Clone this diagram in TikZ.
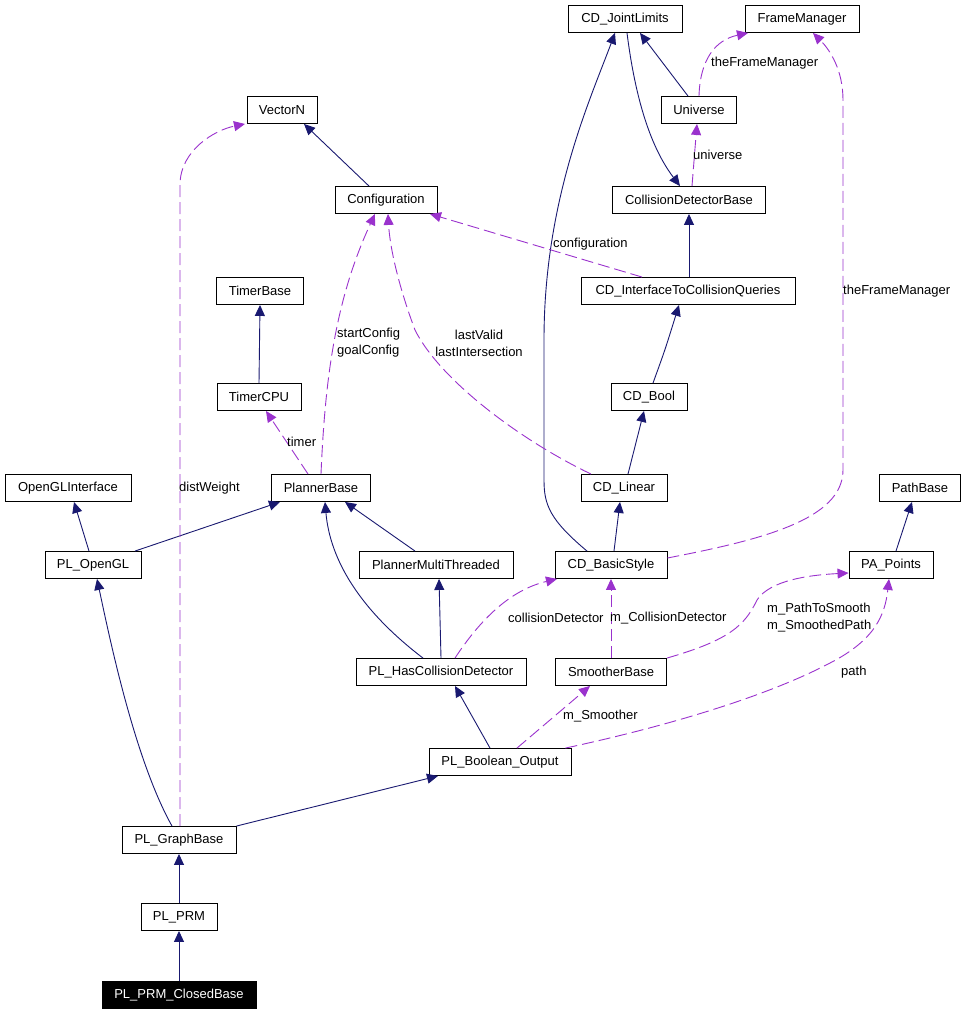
\documentclass[tikz,border=0pt]{standalone}
\usepackage{fontspec}
\setmainfont{Liberation Sans}
\usetikzlibrary{arrows.meta}
\definecolor{inhblue}{HTML}{191970}
\definecolor{usepurple}{HTML}{9A32CD}

\begin{document}
\begin{tikzpicture}[x=1pt, y=-1pt,
    cls/.style={draw, line width=0.9pt, minimum height=27pt, inner sep=0pt, font=\fontsize{13}{17}\selectfont},
    lbl/.style={anchor=west, inner sep=0pt, font=\fontsize{13}{17}\selectfont},
    inh/.style={draw=inhblue, line width=0.9pt, -{Triangle[length=11pt,width=10pt]}, inhblue},
    use/.style={draw=usepurple, line width=0.9pt, dash pattern=on 12pt off 5pt, -{Triangle[length=11pt,width=10pt]}, usepurple}]
    \useasboundingbox (0,0) rectangle (965,1013);

    % classes
    \node[cls, minimum width=114pt] (jl) at (625,19) {CD\_JointLimits};
    \node[cls, minimum width=114pt] (fm) at (802,19) {FrameManager};
    \node[cls, minimum width=75pt] (uni) at (699,110) {Universe};
    \node[cls, minimum width=70pt] (vec) at (282,110) {VectorN};
    \node[cls, minimum width=102pt] (conf) at (386,200) {Configuration};
    \node[cls, minimum width=153pt] (cdb) at (689,200) {CollisionDetectorBase};
    \node[cls, minimum width=214pt] (itcq) at (688,291) {CD\_InterfaceToCollisionQueries};
    \node[cls, minimum width=87pt] (tb) at (260,291) {TimerBase};
    \node[cls, minimum width=84pt] (tcpu) at (259,397) {TimerCPU};
    \node[cls, minimum width=76pt] (bool) at (649,397) {CD\_Bool};
    \node[cls, minimum width=126pt] (ogli) at (68,488) {OpenGLInterface};
    \node[cls, minimum width=99pt] (pb) at (321,488) {PlannerBase};
    \node[cls, minimum width=86pt] (lin) at (624,488) {CD\_Linear};
    \node[cls, minimum width=81pt] (pathb) at (920,488) {PathBase};
    \node[cls, minimum width=96pt] (plogl) at (93,565) {PL\_OpenGL};
    \node[cls, minimum width=154pt] (pmt) at (436,565) {PlannerMultiThreaded};
    \node[cls, minimum width=112pt] (basic) at (611,565) {CD\_BasicStyle};
    \node[cls, minimum width=84pt] (pap) at (891,565) {PA\_Points};
    \node[cls, minimum width=170pt] (hcd) at (441,672) {PL\_HasCollisionDetector};
    \node[cls, minimum width=111pt] (smb) at (611,672) {SmootherBase};
    \node[cls, minimum width=142pt] (bo) at (500,762) {PL\_Boolean\_Output};
    \node[cls, minimum width=114pt] (gb) at (179,840) {PL\_GraphBase};
    \node[cls, minimum width=76pt] (prm) at (179,917) {PL\_PRM};
    \node[cls, minimum width=154pt, fill=black, text=white] (closed) at (179,995) {PL\_PRM\_ClosedBase};

    % inheritance
    \draw[inh] ([xshift=-17pt]conf.north) -- ([xshift=22pt]vec.south);
    \draw[inh] (tcpu.north) -- (tb.south);
    \draw[inh] ([xshift=-11pt]uni.north) -- ([xshift=15pt]jl.south);
    \draw[inh] ([xshift=2pt]jl.south) .. controls (633,80) and (645,140) .. ([xshift=-9pt]cdb.north);
    \draw[inh] ([xshift=1pt]itcq.north) -- (cdb.south);
    \draw[inh] ([xshift=4pt]bool.north) .. controls (665,350) .. ([xshift=-9pt]itcq.south);
    \draw[inh] ([xshift=4pt]lin.north) -- ([xshift=-5pt]bool.south);
    \draw[inh] ([xshift=3pt]basic.north) -- ([xshift=-4pt]lin.south);
    \draw[inh] ([xshift=-24pt]basic.north) .. controls (550,520) and (544,505) .. (544,480)
        -- (544,340) .. controls (544,200) and (590,100) .. ([xshift=-10pt]jl.south);
    \draw[inh] ([xshift=5pt]pap.north) -- ([xshift=-8pt]pathb.south);
    \draw[inh] ([xshift=-4pt]plogl.north) -- ([xshift=6pt]ogli.south);
    \draw[inh] ([xshift=42pt]plogl.north) -- ([xshift=-41pt]pb.south);
    \draw[inh] ([xshift=-21pt]pmt.north) -- ([xshift=24pt]pb.south);
    \draw[inh] ([xshift=-18pt]hcd.north) .. controls (360,610) and (330,560) .. ([xshift=4pt]pb.south);
    \draw[inh] (hcd.north) -- ([xshift=3pt]pmt.south);
    \draw[inh] ([xshift=-10pt]bo.north) -- ([xshift=14pt]hcd.south);
    \draw[inh] (gb.north east) -- ([xshift=-62pt]bo.south);
    \draw[inh] ([xshift=-7pt]gb.north) .. controls (135,760) and (110,640) .. ([xshift=4pt]plogl.south);
    \draw[inh] (prm.north) -- (gb.south);
    \draw[inh] (closed.north) -- (prm.south);

    % usage
    \draw[use] ([xshift=1pt]gb.north) -- (180,185) .. controls (180,150) and (215,130) .. ([xshift=-37pt]vec.south);
    \node[lbl] (ldist) at (179,488) {distWeight};
    \draw[use] (pb.north) .. controls (325,380) and (335,300) .. ([xshift=-11pt]conf.south);
    \node[lbl, align=left] (lcfg) at (337,343) {startConfig\\goalConfig};
    \draw[use] ([xshift=-13pt]pb.north) -- ([xshift=7pt]tcpu.south);
    \node[lbl] (ltimer) at (287,442) {timer};
    \draw[use] ([xshift=-33pt]lin.north) .. controls (520,440) and (440,380) .. (415,330)
        .. controls (400,290) and (390,250) .. ([xshift=2pt]conf.south);
    \node[lbl, anchor=center, align=center] (llast) at (479,343) {lastValid\\lastIntersection};
    \draw[use] ([xshift=-46pt]itcq.north) -- ([xshift=44pt]conf.south);
    \node[lbl] (lconf) at (553,244) {configuration};
    \draw[use] ([xshift=3pt]cdb.north) .. controls (694,160) .. ([xshift=-2pt]uni.south);
    \node[lbl] (luni) at (693,155) {universe};
    \draw[use] (uni.north) .. controls (700,60) and (715,40) .. ([xshift=-54pt]fm.south);
    \node[lbl] (lfm) at (711,63) {theFrameManager};
    \draw[use] ([yshift=7pt]basic.east) .. controls (760,540) and (843,520) .. (843,470)
        -- (843,100) .. controls (843,70) and (830,50) .. ([xshift=11pt]fm.south);
    \node[lbl] (lfm2) at (843,291) {theFrameManager};
    \draw[use] ([xshift=14pt]hcd.north) .. controls (480,620) and (510,590) .. ([xshift=-54pt]basic.south);
    \node[lbl] (lcd) at (508,618) {collisionDetector};
    \draw[use] (smb.north) -- (basic.south);
    \node[lbl] (lmcd) at (610,618) {m\_CollisionDetector};
    \draw[use] (smb.north east) .. controls (730,640) and (745,625) .. (757,600)
        .. controls (770,580) and (810,575) .. ([yshift=-8pt]pap.west);
    \node[lbl, align=left] (lsmooth) at (767,618) {m\_PathToSmooth\\m\_SmoothedPath};
    \draw[use] ([xshift=17pt]bo.north) -- ([xshift=-21pt]smb.south);
    \node[lbl] (lsm) at (563,716) {m\_Smoother};
    \draw[use] ([xshift=-6pt]bo.north east) .. controls (650,730) and (760,700) .. (830,663)
        .. controls (875,640) and (885,615) .. ([xshift=-2pt]pap.south);
    \node[lbl] (lpath) at (841,672) {path};
\end{tikzpicture}
\end{document}
